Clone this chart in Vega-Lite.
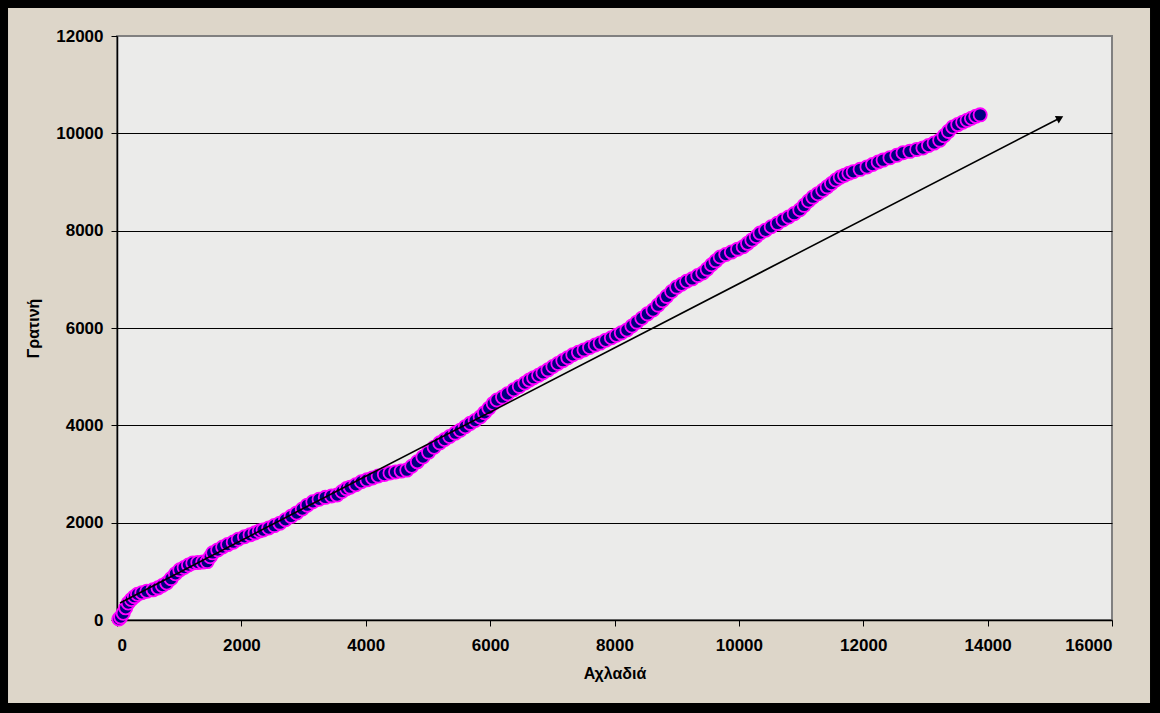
{
  "$schema": "https://vega.github.io/schema/vega-lite/v6.json",
  "width": 995,
  "height": 584,
  "autosize": {"type": "none"},
  "padding": {"left": 117, "top": 36, "right": 48, "bottom": 93},
  "background": "#DDD6C9",
  "config": {
    "view": {"fill": "#EBEBEA", "stroke": "#808080", "strokeWidth": 2},
    "font": "Liberation Sans",
    "axis": {
      "labelFont": "Liberation Sans",
      "labelFontWeight": "bold",
      "labelFontSize": 17,
      "labelColor": "#000000",
      "titleFont": "Liberation Sans",
      "titleFontWeight": "bold",
      "titleFontSize": 16,
      "titleColor": "#000000",
      "domainColor": "#000000",
      "domainWidth": 1.5,
      "tickColor": "#000000",
      "tickSize": 6,
      "tickWidth": 1
    }
  },
  "datasets": {
    "pts": [
      {"a":30,"g":20},{"a":60,"g":60},{"a":100,"g":140},{"a":140,"g":250},{"a":180,"g":350},{"a":230,"g":420},{"a":280,"g":480},{"a":330,"g":530},{"a":400,"g":560},{"a":480,"g":590},
      {"a":580,"g":620},{"a":660,"g":660},{"a":730,"g":710},{"a":800,"g":760},{"a":870,"g":850},{"a":940,"g":950},{"a":1010,"g":1030},{"a":1080,"g":1080},{"a":1150,"g":1130},{"a":1220,"g":1170},
      {"a":1300,"g":1180},{"a":1380,"g":1190},{"a":1450,"g":1200},{"a":1500,"g":1300},{"a":1540,"g":1380},{"a":1620,"g":1440},{"a":1700,"g":1500},{"a":1780,"g":1550},{"a":1870,"g":1600},{"a":1950,"g":1660},
      {"a":2050,"g":1710},{"a":2140,"g":1750},{"a":2220,"g":1790},{"a":2290,"g":1830},{"a":2350,"g":1850},{"a":2440,"g":1890},{"a":2530,"g":1940},{"a":2620,"g":1990},{"a":2710,"g":2060},{"a":2800,"g":2130},
      {"a":2890,"g":2200},{"a":2980,"g":2280},{"a":3060,"g":2360},{"a":3150,"g":2430},{"a":3250,"g":2480},{"a":3350,"g":2520},{"a":3450,"g":2550},{"a":3540,"g":2570},{"a":3620,"g":2640},{"a":3690,"g":2700},
      {"a":3750,"g":2730},{"a":3840,"g":2780},{"a":3930,"g":2840},{"a":4020,"g":2880},{"a":4110,"g":2920},{"a":4200,"g":2960},{"a":4300,"g":2990},{"a":4390,"g":3020},{"a":4480,"g":3040},{"a":4570,"g":3060},
      {"a":4660,"g":3080},{"a":4740,"g":3160},{"a":4830,"g":3250},{"a":4920,"g":3350},{"a":5010,"g":3450},{"a":5100,"g":3550},{"a":5190,"g":3640},{"a":5270,"g":3710},{"a":5350,"g":3770},{"a":5440,"g":3840},
      {"a":5520,"g":3900},{"a":5600,"g":3970},{"a":5680,"g":4040},{"a":5760,"g":4100},{"a":5840,"g":4170},{"a":5910,"g":4260},{"a":5980,"g":4350},{"a":6050,"g":4450},{"a":6110,"g":4520},{"a":6200,"g":4580},
      {"a":6280,"g":4650},{"a":6380,"g":4730},{"a":6470,"g":4800},{"a":6560,"g":4870},{"a":6630,"g":4930},{"a":6700,"g":4980},{"a":6780,"g":5030},{"a":6850,"g":5080},{"a":6930,"g":5140},{"a":7010,"g":5210},
      {"a":7090,"g":5270},{"a":7170,"g":5330},{"a":7250,"g":5390},{"a":7330,"g":5450},{"a":7420,"g":5500},{"a":7510,"g":5550},{"a":7600,"g":5600},{"a":7690,"g":5650},{"a":7770,"g":5690},{"a":7860,"g":5750},
      {"a":7950,"g":5800},{"a":8030,"g":5850},{"a":8110,"g":5900},{"a":8200,"g":5960},{"a":8280,"g":6040},{"a":8360,"g":6120},{"a":8440,"g":6200},{"a":8530,"g":6290},{"a":8620,"g":6370},{"a":8700,"g":6470},
      {"a":8770,"g":6560},{"a":8840,"g":6650},{"a":8920,"g":6750},{"a":9000,"g":6840},{"a":9080,"g":6900},{"a":9160,"g":6960},{"a":9250,"g":7010},{"a":9340,"g":7080},{"a":9420,"g":7130},{"a":9490,"g":7210},
      {"a":9560,"g":7300},{"a":9630,"g":7380},{"a":9700,"g":7460},{"a":9790,"g":7510},{"a":9880,"g":7560},{"a":9980,"g":7620},{"a":10070,"g":7670},{"a":10140,"g":7740},{"a":10210,"g":7810},{"a":10280,"g":7880},
      {"a":10340,"g":7950},{"a":10430,"g":8010},{"a":10520,"g":8080},{"a":10620,"g":8150},{"a":10710,"g":8220},{"a":10800,"g":8280},{"a":10890,"g":8350},{"a":10980,"g":8430},{"a":11050,"g":8520},{"a":11120,"g":8610},
      {"a":11190,"g":8690},{"a":11270,"g":8760},{"a":11350,"g":8830},{"a":11420,"g":8900},{"a":11490,"g":8970},{"a":11560,"g":9040},{"a":11630,"g":9100},{"a":11700,"g":9140},{"a":11770,"g":9180},{"a":11840,"g":9210},
      {"a":11950,"g":9260},{"a":12060,"g":9310},{"a":12150,"g":9360},{"a":12240,"g":9410},{"a":12320,"g":9450},{"a":12430,"g":9500},{"a":12540,"g":9550},{"a":12640,"g":9600},{"a":12750,"g":9630},{"a":12860,"g":9670},
      {"a":12960,"g":9700},{"a":13050,"g":9750},{"a":13140,"g":9800},{"a":13230,"g":9860},{"a":13300,"g":9950},{"a":13370,"g":10040},{"a":13440,"g":10130},{"a":13520,"g":10180},{"a":13600,"g":10230},{"a":13670,"g":10270},
      {"a":13740,"g":10310},{"a":13810,"g":10350},{"a":13880,"g":10380}
    ],
    "arrow": [
      {"a": 48, "g": 349},
      {"a": 15164, "g": 10315}
    ],
    "head": [
      {"a": 15164, "g": 10315}
    ],
    "frame": [
      {}
    ]
  },
  "layer": [
    {
      "data": {"name": "pts"},
      "mark": {"type": "point", "shape": "circle", "filled": true, "fill": "#000080", "stroke": "#FF00FF", "strokeWidth": 1.8, "opacity": 1, "size": 175},
      "encoding": {
        "x": {
          "field": "a", "type": "quantitative",
          "scale": {"domain": [0, 16000], "nice": false, "zero": false},
          "axis": {"title": "Αχλαδιά", "values": [0,2000,4000,6000,8000,10000,12000,14000,16000], "grid": false, "labelPadding": 11, "titlePadding": 12, "format": "d"}
        },
        "y": {
          "field": "g", "type": "quantitative",
          "scale": {"domain": [0, 12000], "nice": false, "zero": false},
          "axis": {
            "title": "Γρατινή", "values": [0,2000,4000,6000,8000,10000,12000], "grid": true, "gridColor": "#000000", "gridWidth": 1,
            "gridOpacity": {"condition": {"test": "datum.value == 12000 || datum.value == 0", "value": 0}, "value": 1},
            "labelPadding": 8, "titlePadding": 14, "format": "d"
          }
        }
      }
    },
    {
      "data": {"name": "arrow"},
      "mark": {"type": "line", "color": "#000000", "strokeWidth": 1.6},
      "encoding": {
        "x": {"field": "a", "type": "quantitative"},
        "y": {"field": "g", "type": "quantitative"}
      }
    },
    {
      "data": {"name": "head"},
      "mark": {"type": "point", "shape": "triangle-right", "filled": true, "color": "#000000", "size": 70, "angle": 333, "opacity": 1},
      "encoding": {
        "x": {"field": "a", "type": "quantitative"},
        "y": {"field": "g", "type": "quantitative"}
      }
    },
    {
      "data": {"name": "frame"},
      "mark": {"type": "rect", "fill": "transparent", "stroke": "#000000", "strokeWidth": 40, "clip": false},
      "encoding": {
        "x": {"datum": -2074, "type": "quantitative"},
        "x2": {"datum": 16933},
        "y": {"datum": -2116, "type": "quantitative"},
        "y2": {"datum": 12986}
      }
    }
  ]
}
